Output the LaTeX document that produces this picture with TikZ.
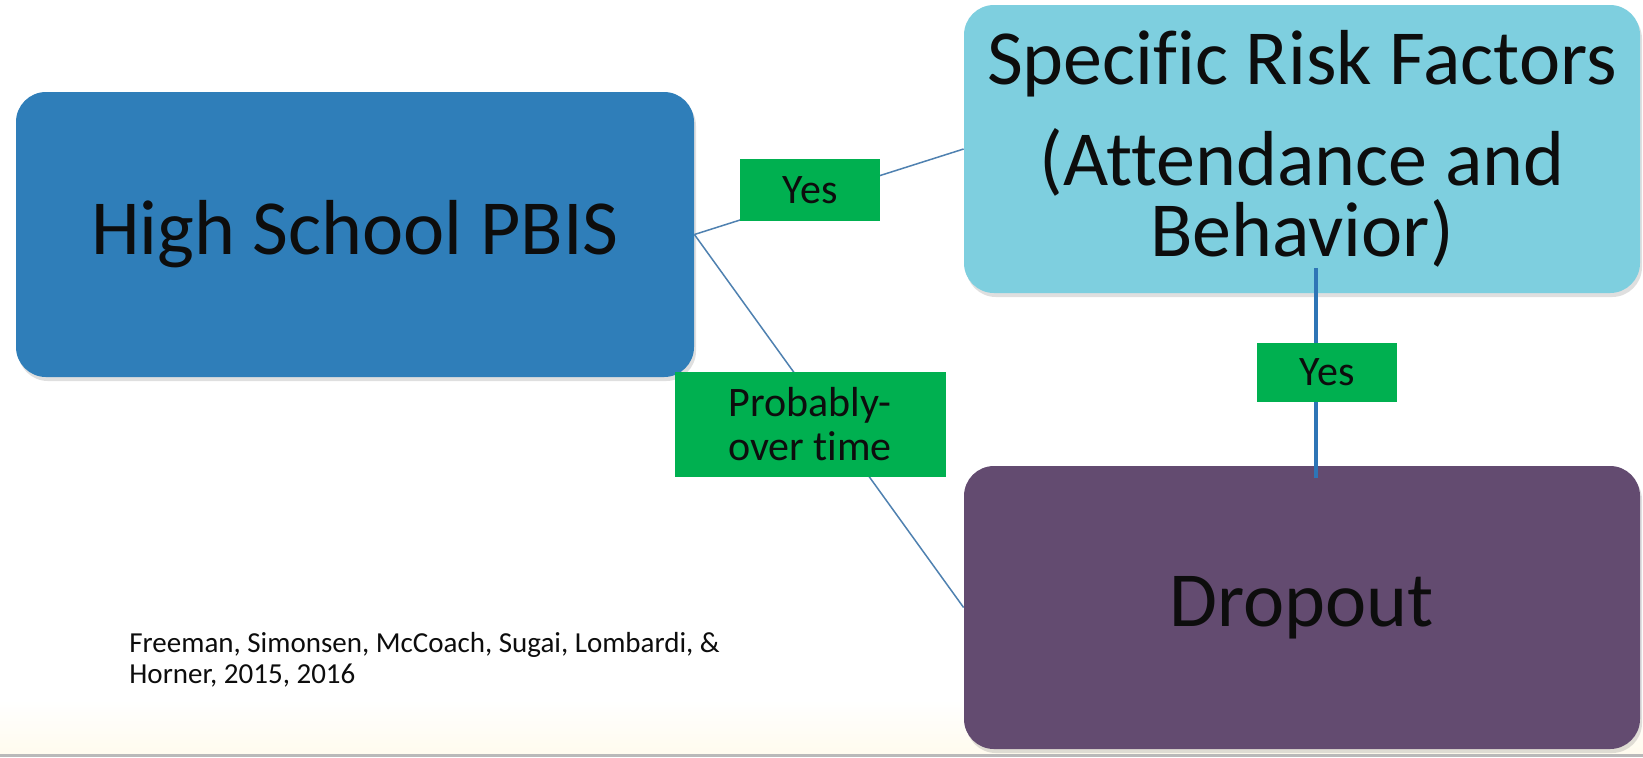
\documentclass[tikz,border=0pt]{standalone}
\usepackage{fontspec}
\setmainfont{Carlito}[Ligatures=NoCommon]
\usetikzlibrary{shadows}
\definecolor{pbisblue}{RGB}{47,126,185}
\definecolor{riskcyan}{RGB}{126,207,223}
\definecolor{dropplum}{RGB}{99,75,112}
\definecolor{yesgreen}{RGB}{0,176,80}
\definecolor{linkblue}{RGB}{79,129,176}
\definecolor{barblue}{RGB}{46,117,182}
\definecolor{inkblack}{RGB}{13,13,13}
\definecolor{cream}{RGB}{255,251,238}
\begin{document}
\begin{tikzpicture}[
    x=0.5pt, y=-0.5pt,
    box/.style={rounded corners=15pt, inner sep=0pt, align=center, text=inkblack,
        font=\fontsize{39}{35.5}\selectfont,
        drop shadow={shadow xshift=1pt, shadow yshift=-2pt, opacity=0.25}},
    tag/.style={fill=yesgreen, inner sep=0pt, align=center, text=inkblack,
        font=\fontsize{21}{22}\selectfont},
    link/.style={linkblue, line width=0.75pt},
    bar/.style={barblue, line width=2.3pt}
]
\useasboundingbox (0,0) rectangle (1643,757);
% Background
\fill[white] (0,0) rectangle (1643,757);
\shade[top color=white, bottom color=cream] (0,700) rectangle (1643,754);
\fill[gray!55] (0,754) rectangle (1643,757);

% Boxes
\node[box, fill=pbisblue, minimum width=339pt, minimum height=142.5pt] (pbis) at (355,234.5) {High School PBIS};
\node[box, fill=riskcyan, minimum width=338pt, minimum height=144pt] (risk) at (1302,149)
    {Specific Risk Factors\\[15pt](Attendance and\\Behavior)};
\node[box, fill=dropplum, minimum width=338pt, minimum height=141.5pt] (drop) at (1302,607.5) {Dropout};

% Connectors
\coordinate (vtop) at (1316,268);
\coordinate (vbot) at (1316,478);
\draw[link] (pbis.east) -- (risk.west);
\draw[link] (pbis.east) -- (drop.west);
\draw[bar] (vtop) -- (vbot);

% Labels on the connectors
\node[tag, minimum width=70pt, minimum height=31pt] (yesA) at (810,190) {Yes};
\node[tag, minimum width=135.5pt, minimum height=52.5pt] (prob) at (810,424.5) {Probably-\\over time};
\node[tag, minimum width=70pt, minimum height=29.5pt] (yesB) at (1327,372) {Yes};

% Citation
\node[anchor=base west, align=left, text=inkblack, inner sep=0pt,
    font=\fontsize{14.5}{15.5}\selectfont] (cite) at (129,683)
    {Freeman, Simonsen, McCoach, Sugai, Lombardi, \&\\Horner, 2015, 2016};
\end{tikzpicture}
\end{document}
